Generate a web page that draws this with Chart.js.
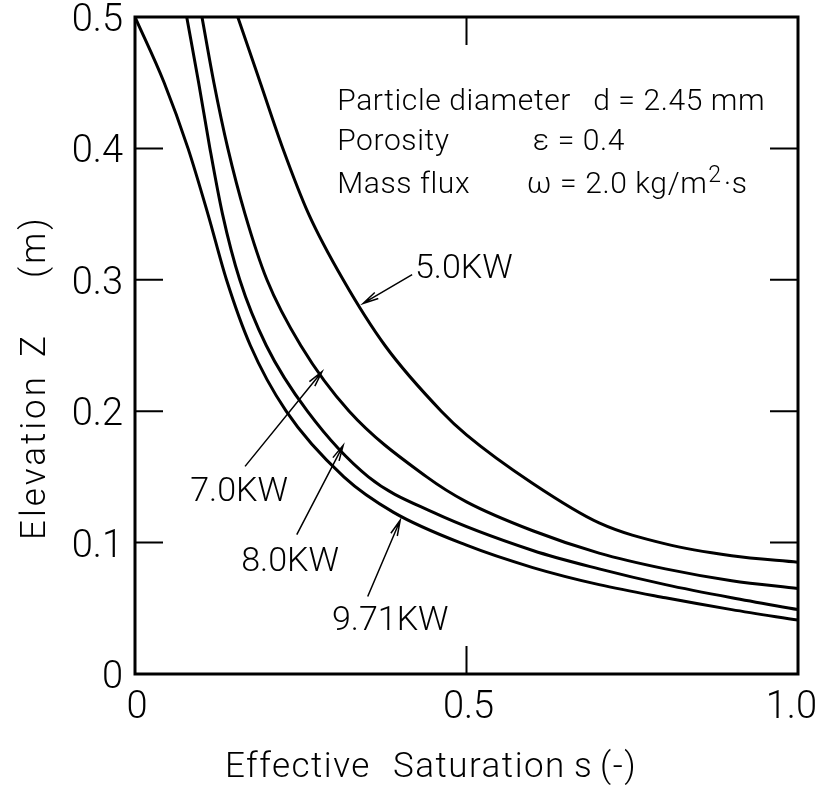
<!DOCTYPE html>
<html>
<head>
<meta charset="utf-8">
<script src="https://cdn.jsdelivr.net/npm/chart.js@4.4.0/dist/chart.umd.min.js"></script>
<style>
  html, body { margin: 0; padding: 0; background: #fff; }
</style>
</head>
<body>
<canvas id="chart" width="819" height="785"></canvas>
<script>
// Effective saturation s (-) and elevation Z (m)
const sat971 = [0, 0.044, 0.080, 0.110, 0.138, 0.174, 0.228, 0.315, 0.39, 0.5, 0.6, 0.7, 0.8, 0.9, 1.0];
const elev971 = [0.5, 0.45, 0.40, 0.35, 0.30, 0.25, 0.20, 0.15, 0.123, 0.098, 0.081, 0.068, 0.058, 0.049, 0.041];

const sat80 = [0.078, 0.096, 0.113, 0.132, 0.158, 0.198, 0.260, 0.352, 0.45, 0.6, 0.7, 0.8, 0.9, 1.0];
const elev80 = [0.5, 0.45, 0.40, 0.35, 0.30, 0.25, 0.20, 0.15, 0.123, 0.094, 0.080, 0.068, 0.058, 0.049];

const sat70 = [0.101, 0.119, 0.140, 0.166, 0.199, 0.250, 0.323, 0.44, 0.5, 0.6, 0.7, 0.8, 0.9, 1.0];
const elev70 = [0.5, 0.45, 0.40, 0.35, 0.30, 0.25, 0.20, 0.15, 0.131, 0.109, 0.092, 0.080, 0.071, 0.065];

const sat50 = [0.155, 0.189, 0.223, 0.262, 0.314, 0.377, 0.462, 0.5, 0.6, 0.7, 0.8, 0.9, 1.0];
const elev50 = [0.5, 0.45, 0.40, 0.35, 0.30, 0.25, 0.20, 0.182, 0.145, 0.115, 0.099, 0.090, 0.085];

const xTicks = [0, 0.5, 1.0];
const xTickLabels = ['0', '0.5', '1.0'];
const yTicks = [0, 0.1, 0.2, 0.3, 0.4, 0.5];
const yTickLabels = ['0', '0.1', '0.2', '0.3', '0.4', '0.5'];

// curve labels: text centre and arrow (tail -> tip) in data units
const curveLabels = ['5.0KW', '7.0KW', '8.0KW', '9.71KW'];
const labelAt = [[0.496, 0.3075], [0.157, 0.138], [0.234, 0.085], [0.385, 0.040]];
const arrowTail = [[0.418, 0.304], [0.166, 0.158], [0.244, 0.106], [0.351, 0.059]];
const arrowTip = [[0.344, 0.282], [0.282, 0.230], [0.314, 0.174], [0.400, 0.117]];

const FONT = "Roboto, 'DejaVu Sans Condensed', 'DejaVu Sans', sans-serif";

function toPoints(xs, ys) {
    return xs.map((x, i) => ({ x: x, y: ys[i] }));
}

function curve(label, xs, ys) {
    return {
        label: label,
        data: toPoints(xs, ys),
        borderColor: '#000',
        borderWidth: 3,
        pointRadius: 0,
        fill: false,
        cubicInterpolationMode: 'monotone'
    };
}

function arrow(ctx, x1, y1, x2, y2) {
    const ang = Math.atan2(y2 - y1, x2 - x1);
    const len = 16, spread = 0.22;
    ctx.beginPath();
    ctx.moveTo(x1, y1);
    ctx.lineTo(x2, y2);
    ctx.moveTo(x2 - len * Math.cos(ang - spread), y2 - len * Math.sin(ang - spread));
    ctx.lineTo(x2, y2);
    ctx.lineTo(x2 - len * Math.cos(ang + spread), y2 - len * Math.sin(ang + spread));
    ctx.stroke();
}

// frame, inner ticks, tick labels, annotations and axis titles
const decorations = {
    id: 'decorations',
    afterDatasetsDraw(chart) {
        const ctx = chart.ctx;
        const a = chart.chartArea;
        const xs = chart.scales.x, ys = chart.scales.y;
        const px = v => xs.getPixelForValue(v);
        const py = v => ys.getPixelForValue(v);
        const W = chart.width;

        ctx.save();
        ctx.strokeStyle = '#000';
        ctx.fillStyle = '#000';
        ctx.lineWidth = 3;
        ctx.strokeRect(a.left, a.top, a.right - a.left, a.bottom - a.top);

        // inner tick marks on all four sides
        ctx.lineWidth = 2;
        const tick = 28;
        ctx.beginPath();
        yTicks.slice(1, -1).forEach(v => {
            ctx.moveTo(a.left, py(v)); ctx.lineTo(a.left + tick, py(v));
            ctx.moveTo(a.right, py(v)); ctx.lineTo(a.right - tick, py(v));
        });
        xTicks.slice(1, -1).forEach(v => {
            ctx.moveTo(px(v), a.bottom); ctx.lineTo(px(v), a.bottom - tick);
            ctx.moveTo(px(v), a.top); ctx.lineTo(px(v), a.top + tick);
        });
        ctx.stroke();

        // tick labels, kept inside the canvas like the original
        ctx.font = '300 38px ' + FONT;
        ctx.textBaseline = 'alphabetic';
        const digitH = ctx.measureText('0').actualBoundingBoxAscent;
        ctx.textAlign = 'right';
        yTicks.forEach((v, i) => {
            const base = Math.max(py(v) + digitH / 2, digitH + 3);
            ctx.fillText(yTickLabels[i], a.left - 12, base);
        });
        ctx.textAlign = 'left';
        xTicks.forEach((v, i) => {
            const w = ctx.measureText(xTickLabels[i]).width;
            const left = Math.min(Math.max(px(v) - w / 2, 0), W - 4 - w);
            ctx.fillText(xTickLabels[i], left + 2, a.bottom + 16 + digitH);
        });

        // curve labels with arrows
        ctx.lineWidth = 1.5;
        ctx.font = '300 34px ' + FONT;
        ctx.textAlign = 'center';
        ctx.textBaseline = 'middle';
        curveLabels.forEach((t, i) => {
            ctx.fillText(t, px(labelAt[i][0]), py(labelAt[i][1]));
            arrow(ctx, px(arrowTail[i][0]), py(arrowTail[i][1]), px(arrowTip[i][0]), py(arrowTip[i][1]));
        });

        // parameter block
        ctx.font = '300 30px ' + FONT;
        ctx.letterSpacing = '0.6px';
        ctx.textAlign = 'left';
        ctx.textBaseline = 'alphabetic';
        ctx.fillText('Particle diameter', px(0.305), py(0.429));
        ctx.fillText('d = 2.45 mm', px(0.691), py(0.429));
        ctx.fillText('Porosity', px(0.305), py(0.399));
        ctx.fillText('\u03B5 = 0.4', px(0.600), py(0.399));
        ctx.fillText('Mass flux', px(0.305), py(0.366));
        let x = px(0.591);
        const base = py(0.366);
        const part1 = '\u03C9 = 2.0 kg/m';
        ctx.fillText(part1, x, base);
        x += ctx.measureText(part1).width + 1;
        ctx.font = '300 23px ' + FONT;
        ctx.fillText('2', x, base - 11);
        x += ctx.measureText('2').width + 2;
        ctx.font = '300 30px ' + FONT;
        ctx.fillText('\u00B7s', x, base);

        // axis titles, word by word as spaced in the figure
        ctx.font = '300 35px ' + FONT;
        ctx.letterSpacing = '1.5px';
        [['Effective', 225], ['Saturation', 393], ['s', 574], ['(-)', 600]].forEach(w => {
            ctx.fillText(w[0], w[1], 777);
        });
        ctx.translate(45, 540);
        ctx.rotate(-Math.PI / 2);
        ctx.letterSpacing = '3px';
        [['Elevation', 0], ['Z', 183], ['(m)', 262]].forEach(w => {
            ctx.fillText(w[0], w[1], 0);
        });
        ctx.restore();
    }
};

new Chart(document.getElementById('chart'), {
    type: 'line',
    data: {
        datasets: [
            curve('5.0 KW', sat50, elev50),
            curve('7.0 KW', sat70, elev70),
            curve('8.0 KW', sat80, elev80),
            curve('9.71 KW', sat971, elev971)
        ]
    },
    options: {
        responsive: false,
        animation: false,
        devicePixelRatio: 1,
        layout: { padding: { top: 17, right: 21, left: 0, bottom: 0 }, autoPadding: false },
        plugins: { legend: { display: false }, tooltip: { enabled: false } },
        scales: {
            x: {
                type: 'linear',
                min: 0,
                max: 1,
                afterFit: s => { s.height = 111; s.paddingLeft = 0; s.paddingRight = 0; },
                afterBuildTicks: s => { s.ticks = xTicks.map(v => ({ value: v })); },
                grid: { display: false, drawTicks: false },
                border: { display: false },
                ticks: { display: false }
            },
            y: {
                type: 'linear',
                min: 0,
                max: 0.5,
                afterFit: s => { s.width = 135; s.paddingTop = 0; s.paddingBottom = 0; },
                afterBuildTicks: s => { s.ticks = yTicks.map(v => ({ value: v })); },
                grid: { display: false, drawTicks: false },
                border: { display: false },
                ticks: { display: false }
            }
        }
    },
    plugins: [decorations]
});
</script>
</body>
</html>
